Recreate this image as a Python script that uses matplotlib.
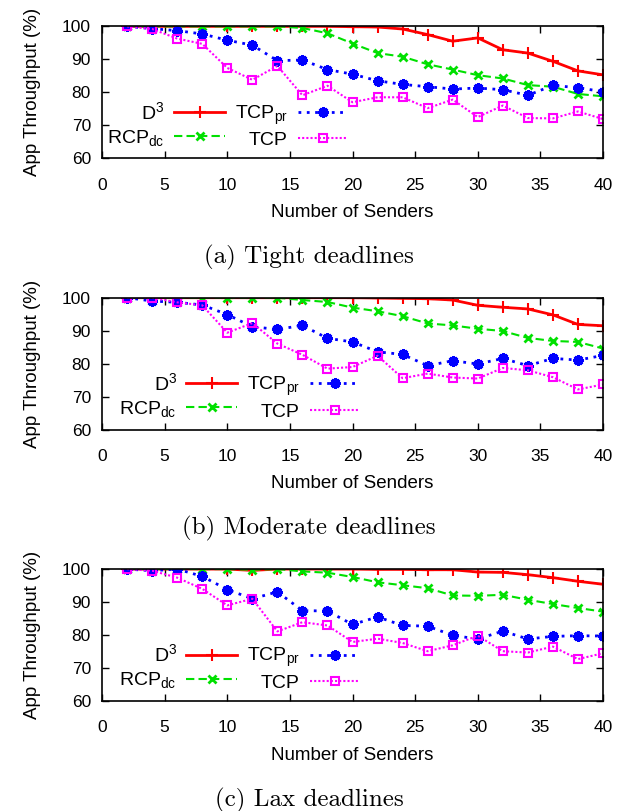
import numpy as np
import matplotlib
matplotlib.use("Agg")
import matplotlib.pyplot as plt

plt.rcParams['font.family'] = ['Liberation Sans', 'DejaVu Sans']
plt.rcParams['mathtext.default'] = 'regular'

senders = np.arange(2, 41, 2)

# (a) tight deadlines
tight_d3 = [100, 100, 100, 100, 100, 100, 100, 100, 100, 99.9,
            99.8, 99.2, 97.5, 95.5, 96.5, 92.9, 91.9, 89.4, 86.5, 85.3]
tight_rcp = [100, 100, 100, 100, 100, 100, 100, 99.5, 97.9, 94.8,
             91.9, 90.8, 88.5, 86.9, 85.2, 84.2, 82.2, 81.7, 79.5, 78.8]
tight_tcppr = [100, 99.3, 98.7, 97.7, 95.8, 94.3, 89.6, 89.8, 86.9, 85.5,
               83.5, 82.4, 81.7, 81.0, 81.3, 80.8, 79.1, 82.1, 81.4, 80.2]
tight_tcp = [100, 99.2, 96.3, 94.7, 87.4, 83.8, 88.0, 79.1, 82.0, 77.0,
             78.5, 78.5, 75.2, 77.8, 72.5, 76.0, 72.2, 72.1, 74.2, 71.9]

# (b) moderate deadlines
mod_d3 = [100, 100, 100, 100, 100, 100, 100, 100, 100, 100,
          99.9, 99.8, 99.7, 99.3, 97.7, 97.1, 96.6, 94.8, 91.9, 91.5]
mod_rcp = [100, 100, 100, 100, 100, 100, 100, 99.3, 98.7, 97.0,
           95.9, 94.4, 92.2, 91.6, 90.6, 89.9, 87.8, 86.9, 86.6, 84.6]
mod_tcppr = [100, 99.0, 98.6, 97.8, 94.9, 91.2, 90.4, 91.6, 87.7, 86.6,
             83.6, 82.8, 79.4, 80.9, 79.9, 81.6, 79.4, 81.6, 81.1, 82.5]
mod_tcp = [100, 100, 98.6, 97.7, 89.4, 92.3, 86.1, 82.7, 78.5, 79.0,
           82.4, 75.6, 77.0, 75.8, 75.5, 78.7, 78.0, 75.9, 72.2, 73.7]

# (c) lax deadlines
lax_d3 = [100, 100, 100, 100, 100, 99.6, 100, 100, 100, 100,
          99.9, 99.9, 99.8, 99.8, 99.1, 99.0, 98.3, 97.4, 96.3, 95.4]
lax_rcp = [100, 100, 100, 100, 100, 99.8, 100, 99.3, 98.9, 97.6,
           96.0, 95.1, 94.2, 92.0, 91.9, 92.2, 90.7, 89.4, 88.2, 87.1]
lax_tcppr = [100, 99.5, 100, 97.8, 93.8, 91.0, 93.1, 87.4, 87.3, 83.2,
             85.5, 82.9, 82.7, 79.9, 78.8, 81.2, 78.8, 79.6, 79.8, 79.7]
lax_tcp = [100, 99.5, 97.4, 94.0, 89.0, 91.0, 81.1, 83.9, 82.9, 77.9,
           78.9, 77.6, 75.1, 76.9, 79.8, 75.1, 74.7, 76.5, 72.7, 74.5]

panels = [
    ("(a) Tight deadlines", tight_d3, tight_rcp, tight_tcppr, tight_tcp),
    ("(b) Moderate deadlines", mod_d3, mod_rcp, mod_tcppr, mod_tcp),
    ("(c) Lax deadlines", lax_d3, lax_rcp, lax_tcppr, lax_tcp),
]

fig = plt.figure(figsize=(6.29, 8.11), dpi=100)

left, width, height = 0.1622, 0.7965, 0.1627
bottoms = [0.8048, 0.4702, 0.1356]
legend_x = [-0.005, 0.019, 0.019]

for (caption, d3, rcp, tcppr, tcp), bottom, lx in zip(panels, bottoms, legend_x):
    ax = fig.add_axes([left, bottom, width, height])
    ax.plot(senders, d3, color='#ff0000', lw=2, marker='+', ms=8, mew=1.5,
            label='D$^3$')
    ax.plot(senders, rcp, color='#00e000', lw=1.5, ls=(0, (4, 2)),
            marker='x', ms=6, mew=2, label='RCP$_{dc}$')
    ax.plot(senders, tcppr, color='#0000ff', lw=2, ls=(0, (1, 2)),
            marker=(8, 2, 0), ms=7.5, mew=2.2, label='TCP$_{pr}$')
    ax.plot(senders, tcp, color='#ff00ff', lw=1.5, ls=(0, (1, 1)),
            marker='s', ms=5.5, mew=1.5, mfc='none', label='TCP')

    ax.set_xlim(0, 40)
    ax.set_ylim(60, 100)
    ax.set_xticks(np.arange(0, 41, 5))
    ax.set_yticks(np.arange(60, 101, 10))
    ax.tick_params(direction='in', top=True, right=True, length=5, width=1,
                   labelsize=12.5)
    ax.tick_params(axis='x', pad=14)
    ax.tick_params(axis='y', pad=8)
    for sp in ax.spines.values():
        sp.set_linewidth(1.2)
    ax.set_xlabel('Number of Senders', fontsize=13.5, labelpad=8)
    ax.set_ylabel('App Throughput (%)', fontsize=13.5, labelpad=15)

    ax.legend(ncol=2, markerfirst=False, frameon=False, numpoints=1,
              fontsize=14, handlelength=2.6, handletextpad=0.5,
              columnspacing=0.5, labelspacing=0.25, borderaxespad=0,
              loc='lower left', bbox_to_anchor=(lx, 0.01))

    ax.text(0.5 - 0.087, -0.75, caption, transform=ax.transAxes,
            ha='center', va='center', fontsize=18, family='cmr10')

fig.savefig('out.png', dpi=100)
